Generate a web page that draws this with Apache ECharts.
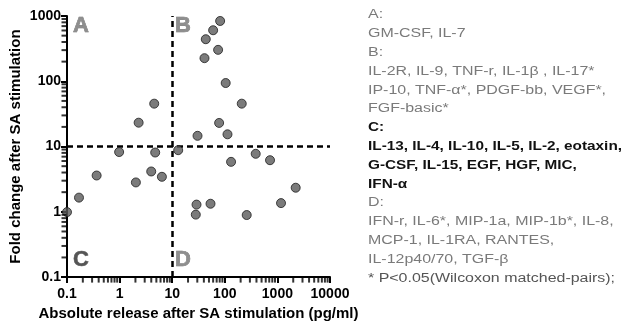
<!DOCTYPE html>
<html>
<head>
<meta charset="utf-8">
<script src="https://cdn.jsdelivr.net/npm/echarts@6/dist/echarts.min.js"></script>
<style>html,body{margin:0;padding:0;background:#fff}#c{width:626px;height:326px}</style>
</head>
<body>
<div id="c"></div>
<script>
// Quadrant A
const xA = [4.55, 2.3];
const yA = [45.4, 23.2];
// Quadrant B
const xB = [81.5, 60, 43.5, 74.6, 41.1, 104, 210, 78, 30.3, 112.5];
const yB = [839, 605, 441, 303, 226, 94, 45.4, 23, 14.6, 15.4];
// Quadrant C
const xC = [0.98, 4.75, 0.366, 3.99, 6.37, 2.04, 0.169, 0.1];
const yC = [8.24, 8.1, 3.6, 4.15, 3.44, 2.82, 1.65, 0.99];
// Quadrant D
const xD = [13, 387, 131.6, 724, 2228, 29, 53.5, 1172, 28.1, 261];
const yD = [8.8, 7.74, 5.83, 6.18, 2.34, 1.29, 1.33, 1.36, 0.906, 0.893];

const xTicks = [0.1, 1, 10, 100, 1000, 10000];
const yTicks = [0.1, 1, 10, 100, 1000];
const cutoffX = 10;
const cutoffY = 10;
const xName = 'Absolute release after SA stimulation (pg/ml)';
const yName = 'Fold change after SA stimulation';
const quadLetters = ['A', 'B', 'C', 'D'];

const legendLines = [
  {t: 'A:', b: false},
  {t: 'GM-CSF, IL-7', b: false},
  {t: 'B:', b: false},
  {t: 'IL-2R, IL-9, TNF-r, IL-1\u03b2 , IL-17*', b: false},
  {t: 'IP-10, TNF-\u03b1*, PDGF-bb, VEGF*,', b: false},
  {t: 'FGF-basic*', b: false},
  {t: 'C:', b: true},
  {t: 'IL-13, IL-4, IL-10, IL-5, IL-2, eotaxin,', b: true},
  {t: 'G-CSF, IL-15, EGF, HGF, MIC,', b: true},
  {t: 'IFN-\u03b1', b: true},
  {t: 'D:', b: false},
  {t: 'IFN-r, IL-6*, MIP-1a, MIP-1b*, IL-8,', b: false},
  {t: 'MCP-1, IL-1RA, RANTES,', b: false},
  {t: 'IL-12p40/70, TGF-\u03b2', b: false},
  {t: '* P<0.05(Wilcoxon matched-pairs);', b: false, dark: true}
];

function zip(xs, ys) { return xs.map((x, i) => [x, ys[i]]); }

// minor tick positions (2..9 within each decade)
const xMinor = [], yMinor = [];
for (let k = 0; k < xTicks.length - 1; k++) for (let m = 2; m <= 9; m++) xMinor.push([+(xTicks[k] * m).toPrecision(3), yTicks[0]]);
for (let k = 0; k < yTicks.length - 1; k++) for (let m = 2; m <= 9; m++) yMinor.push([xTicks[0], +(yTicks[k] * m).toPrecision(3)]);

const FONT = 'Liberation Sans, Arial, sans-serif';

const pointStyle = {
  type: 'scatter',
  symbolSize: 9,
  clip: false,
  itemStyle: {color: '#5a5a5a', borderColor: '#1e1e1e', borderWidth: 1},
  z: 5
};

const series = [
  Object.assign({}, pointStyle, {
    name: 'A', data: zip(xA, yA),
    markLine: {
      silent: true, symbol: 'none', animation: false,
      label: {show: false},
      lineStyle: {color: '#000', width: 2.5, type: [6, 4]},
      data: [
        [{coord: [cutoffX, yTicks[0]]}, {coord: [cutoffX, yTicks[yTicks.length - 1]]}],
        [{coord: [xTicks[0], cutoffY]}, {coord: [xTicks[xTicks.length - 1], cutoffY]}]
      ]
    }
  }),
  Object.assign({}, pointStyle, {name: 'B', data: zip(xB, yB)}),
  Object.assign({}, pointStyle, {name: 'C', data: zip(xC, yC)}),
  Object.assign({}, pointStyle, {name: 'D', data: zip(xD, yD)}),
  // minor ticks drawn as scatter symbols: small vertical / horizontal bars
  {
    type: 'scatter', name: 'minorX', data: xMinor, clip: false, silent: true, z: 20,
    symbol: 'rect', symbolSize: [2, 5], symbolOffset: [0, 3],
    itemStyle: {color: '#000'}
  },
  {
    type: 'scatter', name: 'minorY', data: yMinor, clip: false, silent: true, z: 20,
    symbol: 'rect', symbolSize: [5, 2], symbolOffset: [-3, 0],
    itemStyle: {color: '#000'}
  }
];

const graphics = [];
const quadPos = [[73, 26, '#8e8e8e'], [175, 26, '#8e8e8e'], [73, 260, '#555555'], [175, 260, '#8e8e8e']];
quadLetters.forEach((L, i) => {
  graphics.push({
    type: 'text', x: quadPos[i][0], y: quadPos[i][1], z: 10,
    style: {text: L, fill: quadPos[i][2], stroke: '#666', lineWidth: 0.6, fontSize: 22, fontWeight: 'bold', fontFamily: FONT, verticalAlign: 'middle', align: 'left'}
  });
});
legendLines.forEach((ln, i) => {
  graphics.push({
    type: 'text', x: 368, y: 15 + i * 18.8, scaleX: ln.b ? 1.18 : 1.33,
    style: {
      text: ln.t,
      fill: ln.b ? '#111' : (ln.dark ? '#555' : '#7a7a7a'),
      fontSize: ln.b ? 13 : 12,
      fontWeight: ln.b ? 'bold' : 'normal',
      fontFamily: FONT, verticalAlign: 'middle', align: 'left'
    }
  });
});

const chart = echarts.init(document.getElementById('c'), null, {renderer: 'canvas'});
chart.setOption({
  animation: false,
  backgroundColor: '#fff',
  grid: {left: 67, right: 296, top: 16, bottom: 48, containLabel: false},
  xAxis: {
    type: 'log', logBase: 10, min: xTicks[0], max: xTicks[xTicks.length - 1],
    name: xName, nameLocation: 'middle', nameGap: 26,
    nameTextStyle: {fontSize: 15, fontWeight: 'bold', color: '#000', fontFamily: FONT},
    axisLine: {onZero: false, lineStyle: {color: '#000', width: 2}},
    axisTick: {show: true, length: 6, lineStyle: {color: '#000', width: 2}},
    axisLabel: {margin: 10, fontSize: 14, fontWeight: 'bold', color: '#000', fontFamily: FONT,
      formatter: v => String(+(+v).toPrecision(3))},
    splitLine: {show: false}
  },
  yAxis: {
    type: 'log', logBase: 10, min: yTicks[0], max: yTicks[yTicks.length - 1],
    name: yName, nameLocation: 'middle', nameGap: 44,
    nameTextStyle: {fontSize: 15, fontWeight: 'bold', color: '#000', fontFamily: FONT},
    axisLine: {onZero: false, lineStyle: {color: '#000', width: 2}},
    axisTick: {show: true, length: 6, lineStyle: {color: '#000', width: 2}},
    axisLabel: {margin: 6, fontSize: 14, fontWeight: 'bold', color: '#000', fontFamily: FONT,
      formatter: v => String(+(+v).toPrecision(3))},
    splitLine: {show: false}
  },
  series: series,
  graphic: graphics
});
</script>
</body>
</html>
